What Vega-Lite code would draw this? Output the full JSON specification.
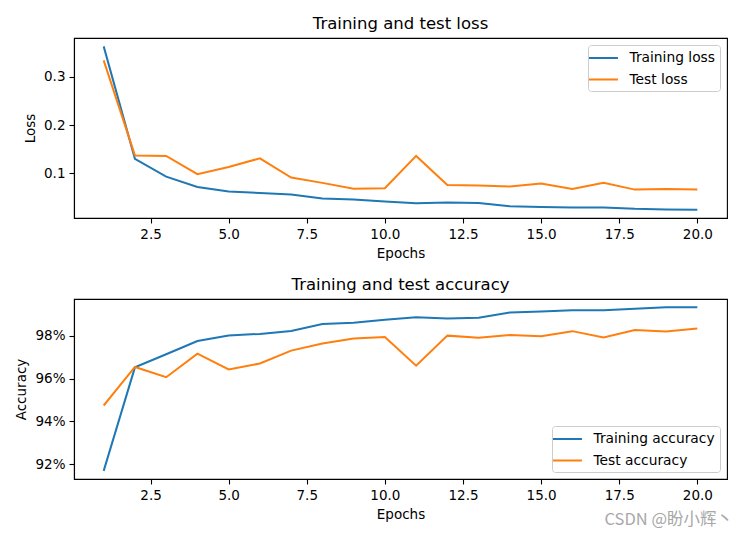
{
  "$schema": "https://vega.github.io/schema/vega-lite/v6.json",
  "background": "white",
  "padding": {"left": 14, "top": 14, "right": 15, "bottom": 5},
  "title": {"text": "CSDN @盼小辉丶", "orient": "bottom", "anchor": "end", "frame": "group", "fontSize": 16.5, "font": "Noto Sans CJK SC", "fontWeight": "normal", "color": "#a8a8a8", "offset": -10, "dx": 6},
  "datasets": {
    "loss": [
      {"epoch": 1, "series": "Training loss", "value": 0.3636},
      {"epoch": 2, "series": "Training loss", "value": 0.130},
      {"epoch": 3, "series": "Training loss", "value": 0.093},
      {"epoch": 4, "series": "Training loss", "value": 0.0716},
      {"epoch": 5, "series": "Training loss", "value": 0.062},
      {"epoch": 6, "series": "Training loss", "value": 0.059},
      {"epoch": 7, "series": "Training loss", "value": 0.0557},
      {"epoch": 8, "series": "Training loss", "value": 0.0474},
      {"epoch": 9, "series": "Training loss", "value": 0.0453},
      {"epoch": 10, "series": "Training loss", "value": 0.0412},
      {"epoch": 11, "series": "Training loss", "value": 0.0379},
      {"epoch": 12, "series": "Training loss", "value": 0.039},
      {"epoch": 13, "series": "Training loss", "value": 0.038},
      {"epoch": 14, "series": "Training loss", "value": 0.0316},
      {"epoch": 15, "series": "Training loss", "value": 0.0296},
      {"epoch": 16, "series": "Training loss", "value": 0.029},
      {"epoch": 17, "series": "Training loss", "value": 0.0289},
      {"epoch": 18, "series": "Training loss", "value": 0.026},
      {"epoch": 19, "series": "Training loss", "value": 0.0248},
      {"epoch": 20, "series": "Training loss", "value": 0.024},
      {"epoch": 1, "series": "Test loss", "value": 0.3346},
      {"epoch": 2, "series": "Test loss", "value": 0.137},
      {"epoch": 3, "series": "Test loss", "value": 0.136},
      {"epoch": 4, "series": "Test loss", "value": 0.098},
      {"epoch": 5, "series": "Test loss", "value": 0.113},
      {"epoch": 6, "series": "Test loss", "value": 0.131},
      {"epoch": 7, "series": "Test loss", "value": 0.091},
      {"epoch": 8, "series": "Test loss", "value": 0.080},
      {"epoch": 9, "series": "Test loss", "value": 0.068},
      {"epoch": 10, "series": "Test loss", "value": 0.069},
      {"epoch": 11, "series": "Test loss", "value": 0.136},
      {"epoch": 12, "series": "Test loss", "value": 0.0758},
      {"epoch": 13, "series": "Test loss", "value": 0.0745},
      {"epoch": 14, "series": "Test loss", "value": 0.0723},
      {"epoch": 15, "series": "Test loss", "value": 0.0785},
      {"epoch": 16, "series": "Test loss", "value": 0.0675},
      {"epoch": 17, "series": "Test loss", "value": 0.080},
      {"epoch": 18, "series": "Test loss", "value": 0.066},
      {"epoch": 19, "series": "Test loss", "value": 0.0675},
      {"epoch": 20, "series": "Test loss", "value": 0.066}
    ],
    "acc": [
      {"epoch": 1, "series": "Training accuracy", "value": 0.9169},
      {"epoch": 2, "series": "Training accuracy", "value": 0.9652},
      {"epoch": 3, "series": "Training accuracy", "value": 0.9713},
      {"epoch": 4, "series": "Training accuracy", "value": 0.9775},
      {"epoch": 5, "series": "Training accuracy", "value": 0.9801},
      {"epoch": 6, "series": "Training accuracy", "value": 0.9808},
      {"epoch": 7, "series": "Training accuracy", "value": 0.9822},
      {"epoch": 8, "series": "Training accuracy", "value": 0.9854},
      {"epoch": 9, "series": "Training accuracy", "value": 0.9860},
      {"epoch": 10, "series": "Training accuracy", "value": 0.9874},
      {"epoch": 11, "series": "Training accuracy", "value": 0.9886},
      {"epoch": 12, "series": "Training accuracy", "value": 0.9880},
      {"epoch": 13, "series": "Training accuracy", "value": 0.9883},
      {"epoch": 14, "series": "Training accuracy", "value": 0.9908},
      {"epoch": 15, "series": "Training accuracy", "value": 0.9913},
      {"epoch": 16, "series": "Training accuracy", "value": 0.9918},
      {"epoch": 17, "series": "Training accuracy", "value": 0.9918},
      {"epoch": 18, "series": "Training accuracy", "value": 0.9925},
      {"epoch": 19, "series": "Training accuracy", "value": 0.9932},
      {"epoch": 20, "series": "Training accuracy", "value": 0.9933},
      {"epoch": 1, "series": "Test accuracy", "value": 0.9474},
      {"epoch": 2, "series": "Test accuracy", "value": 0.9654},
      {"epoch": 3, "series": "Test accuracy", "value": 0.9606},
      {"epoch": 4, "series": "Test accuracy", "value": 0.9716},
      {"epoch": 5, "series": "Test accuracy", "value": 0.9642},
      {"epoch": 6, "series": "Test accuracy", "value": 0.9670},
      {"epoch": 7, "series": "Test accuracy", "value": 0.9730},
      {"epoch": 8, "series": "Test accuracy", "value": 0.9763},
      {"epoch": 9, "series": "Test accuracy", "value": 0.9787},
      {"epoch": 10, "series": "Test accuracy", "value": 0.9794},
      {"epoch": 11, "series": "Test accuracy", "value": 0.9660},
      {"epoch": 12, "series": "Test accuracy", "value": 0.9800},
      {"epoch": 13, "series": "Test accuracy", "value": 0.9790},
      {"epoch": 14, "series": "Test accuracy", "value": 0.9803},
      {"epoch": 15, "series": "Test accuracy", "value": 0.9797},
      {"epoch": 16, "series": "Test accuracy", "value": 0.9821},
      {"epoch": 17, "series": "Test accuracy", "value": 0.9792},
      {"epoch": 18, "series": "Test accuracy", "value": 0.9826},
      {"epoch": 19, "series": "Test accuracy", "value": 0.9819},
      {"epoch": 20, "series": "Test accuracy", "value": 0.9833}
    ]
  },
  "vconcat": [
    {
      "width": 653,
      "height": 180,
      "title": "Training and test loss",
      "data": {"name": "loss"},
      "mark": {"type": "line", "strokeWidth": 2, "clip": true},
      "encoding": {
        "x": {"field": "epoch", "type": "quantitative", "title": "Epochs",
              "scale": {"domain": [0.05, 20.95], "nice": false, "zero": false},
              "axis": {"values": [2.5, 5, 7.5, 10, 12.5, 15, 17.5, 20], "format": ".1f"}},
        "y": {"field": "value", "type": "quantitative", "title": "Loss",
              "scale": {"domain": [0.007, 0.381], "nice": false, "zero": false},
              "axis": {"values": [0.1, 0.2, 0.3], "format": ".1f"}},
        "color": {"field": "series", "type": "nominal",
                  "scale": {"domain": ["Training loss", "Test loss"], "range": ["#1f77b4", "#ff7f0e"]},
                  "legend": {"orient": "top-right", "title": null}}
      }
    },
    {
      "width": 653,
      "height": 180,
      "title": "Training and test accuracy",
      "data": {"name": "acc"},
      "mark": {"type": "line", "strokeWidth": 2, "clip": true},
      "encoding": {
        "x": {"field": "epoch", "type": "quantitative", "title": "Epochs",
              "scale": {"domain": [0.05, 20.95], "nice": false, "zero": false},
              "axis": {"values": [2.5, 5, 7.5, 10, 12.5, 15, 17.5, 20], "format": ".1f"}},
        "y": {"field": "value", "type": "quantitative", "title": "Accuracy",
              "scale": {"domain": [0.9131, 0.9971], "nice": false, "zero": false},
              "axis": {"values": [0.92, 0.94, 0.96, 0.98], "format": ".0%"}},
        "color": {"field": "series", "type": "nominal",
                  "scale": {"domain": ["Training accuracy", "Test accuracy"], "range": ["#1f77b4", "#ff7f0e"]},
                  "legend": {"orient": "bottom-right", "title": null}}
      }
    }
  ],
  "resolve": {"scale": {"color": "independent"}, "legend": {"color": "independent"}},
  "spacing": 81,
  "bounds": "flush",
  "config": {
    "font": "DejaVu Sans",
    "view": {"stroke": "black", "strokeWidth": 1.1},
    "title": {"fontSize": 16.5, "fontWeight": "normal", "color": "black", "font": "DejaVu Sans", "offset": 6, "anchor": "middle"},
    "axis": {
      "grid": false,
      "domainColor": "black",
      "domainWidth": 1.1,
      "tickColor": "black",
      "tickWidth": 1.1,
      "tickSize": 5,
      "labelPadding": 4,
      "labelColor": "black",
      "labelFontSize": 13.5,
      "labelFont": "DejaVu Sans",
      "titleFont": "DejaVu Sans",
      "titleFontSize": 13.5,
      "titleFontWeight": "normal",
      "titleColor": "black",
      "titlePadding": 6
    },
    "legend": {
      "labelFontSize": 13.8,
      "labelFont": "DejaVu Sans",
      "labelColor": "black",
      "symbolType": "M-1.66,0H2.34",
      "symbolStrokeWidth": 2,
      "symbolSize": 210,
      "labelOffset": 20,
      "fillColor": "rgba(255,255,255,0.8)",
      "strokeColor": "#cccccc",
      "cornerRadius": 3,
      "padding": 4.5,
      "offset": 7,
      "rowPadding": 5.5
    }
  }
}
